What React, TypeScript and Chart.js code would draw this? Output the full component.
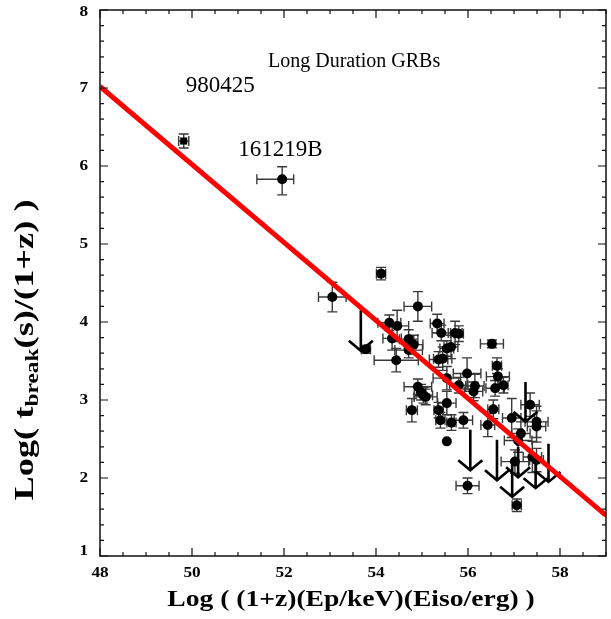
import React, { useEffect, useRef } from "react";
import { Chart, registerables } from "chart.js";

Chart.register(...registerables);

// ---- Axis ranges and tick labels ----
const xRange = [48, 59];
const yRange = [1, 8];
const xTickValues = [48, 50, 52, 54, 56, 58];
const yTickValues = [1, 2, 3, 4, 5, 6, 7, 8];
const xMinorStep = 0.5;
const yMinorStep = 0.2;

// ---- Best-fit line ----
const fitX = [48, 59];
const fitY = [7.02, 1.52];

// ---- Measured GRBs (x, y, x error, y error) ----
const grbX = [
  53.05, 54.11, 53.78, 54.29, 54.46, 54.91, 55.33, 55.42, 55.72, 55.8,
  55.63, 54.35, 54.71, 54.82, 54.71, 54.44, 55.36, 55.45, 55.54, 56.52,
  56.63, 56.65, 56.77, 56.59, 55.98, 56.15, 56.12, 55.8, 55.54, 54.91,
  54.98, 55.03, 55.08, 54.78, 55.36, 55.4, 55.54, 55.54, 55.64, 55.9,
  55.99, 56.55, 56.43, 56.95, 57.35, 57.49, 57.49, 57.15, 57.09, 57.02,
  57.4, 57.49, 57.06,
];
const grbY = [
  4.32, 4.62, 3.65, 3.99, 3.95, 4.2, 3.98, 3.86, 3.86, 3.85,
  3.68, 3.79, 3.78, 3.71, 3.64, 3.51, 3.52, 3.53, 3.66, 3.72,
  3.44, 3.3, 3.19, 3.15, 3.34, 3.18, 3.11, 3.19, 3.28, 3.17,
  3.1, 3.06, 3.04, 2.87, 2.87, 2.74, 2.96, 2.47, 2.71, 2.74,
  1.9, 2.88, 2.68, 2.77, 2.94, 2.72, 2.66, 2.57, 2.48, 2.21,
  2.27, 2.23, 1.65,
];
const grbXErr = [
  0.3, 0.1, 0.1, 0.25, 0.25, 0.3, 0.15, 0.2, 0.15, 0.1,
  0.15, 0.2, 0.2, 0.2, 0.3, 0.48, 0.2, 0.2, 0.15, 0.25,
  0.1, 0.25, 0.1, 0.2, 0.3, 0.2, 0.2, 0.2, 0.3, 0.3,
  0.1, 0.2, 0.25, 0.12, 0.1, 0.1, 0.2, 0, 0.1, 0.2,
  0.25, 0.12, 0.15, 0.2, 0.2, 0.25, 0.2, 0.2, 0.3, 0.3,
  0.2, 0.15, 0.1,
];
const grbYErr = [
  0.19, 0.08, 0.05, 0.1, 0.2, 0.19, 0.12, 0.1, 0.15, 0.1,
  0.15, 0.15, 0.12, 0.12, 0.1, 0.15, 0.1, 0.15, 0.1, 0.05,
  0.1, 0.1, 0.1, 0.1, 0.2, 0.15, 0.12, 0.1, 0.15, 0.1,
  0.1, 0.1, 0.1, 0.15, 0.1, 0.1, 0.15, 0, 0.1, 0.1,
  0.1, 0.12, 0.15, 0.25, 0.15, 0.2, 0.2, 0.15, 0.15, 0.15,
  0.2, 0.15, 0.08,
];

// ---- Upper limits (arrow from top value down to tip value) ----
const limitX = [53.67, 56.05, 56.63, 57.25, 56.96, 57.09, 57.47, 57.75];
const limitTop = [4.15, 2.62, 2.49, 3.23, 2.17, 2.4, 2.23, 2.44];
const limitTip = [3.63, 2.1, 1.97, 2.72, 1.76, 2.01, 1.87, 1.95];

// ---- Labelled GRBs ----
const namedLabels = ["980425", "161219B"];
const namedX = [49.82, 51.96];
const namedY = [6.32, 5.83];
const namedXErrLo = [0.11, 0.55];
const namedXErrHi = [0.11, 0.25];
const namedYErrLo = [0.09, 0.2];
const namedYErrHi = [0.09, 0.16];
const namedShapes = ["rect", "circle"];

const panelTitle = "Long Duration GRBs";
const xTitle = "Log ( (1+z)(Ep/keV)(Eiso/erg) )";
const yTitleParts = ["Log( t", "break", "(s)/(1+z) )"];

const SERIF = '"Liberation Serif", "Times New Roman", Times, serif';

function drawText(
  ctx: CanvasRenderingContext2D,
  text: string,
  x: number,
  y: number,
  font: string,
  align: CanvasTextAlign,
  baseline: CanvasTextBaseline,
  sx: number
) {
  ctx.save();
  ctx.font = font;
  ctx.textAlign = align;
  ctx.textBaseline = baseline;
  ctx.translate(x, y);
  ctx.scale(sx, 1);
  ctx.fillText(text, 0, 0);
  ctx.restore();
}

const decorPlugin = {
  id: "decor",
  beforeDatasetsDraw(chart: any) {
    const { ctx, scales } = chart;
    const xs = scales.x;
    const ys = scales.y;
    ctx.save();
    ctx.strokeStyle = "#3a3a3a";
    ctx.lineWidth = 1.4;
    const cap = 5;
    const bar = (x: number, y: number, xl: number, xh: number, yl: number, yh: number) => {
      const px = xs.getPixelForValue(x);
      const py = ys.getPixelForValue(y);
      ctx.beginPath();
      if (xl > 0 || xh > 0) {
        const a = xs.getPixelForValue(x - xl);
        const b = xs.getPixelForValue(x + xh);
        ctx.moveTo(a, py); ctx.lineTo(b, py);
        ctx.moveTo(a, py - cap); ctx.lineTo(a, py + cap);
        ctx.moveTo(b, py - cap); ctx.lineTo(b, py + cap);
      }
      if (yl > 0 || yh > 0) {
        const a = ys.getPixelForValue(y - yl);
        const b = ys.getPixelForValue(y + yh);
        ctx.moveTo(px, a); ctx.lineTo(px, b);
        ctx.moveTo(px - cap, a); ctx.lineTo(px + cap, a);
        ctx.moveTo(px - cap, b); ctx.lineTo(px + cap, b);
      }
      ctx.stroke();
    };
    grbX.forEach((x, i) => bar(x, grbY[i], grbXErr[i], grbXErr[i], grbYErr[i], grbYErr[i]));
    namedX.forEach((x, i) => bar(x, namedY[i], namedXErrLo[i], namedXErrHi[i], namedYErrLo[i], namedYErrHi[i]));

    ctx.strokeStyle = "#000";
    ctx.lineWidth = 2.6;
    limitX.forEach((x, i) => {
      const px = xs.getPixelForValue(x);
      const top = ys.getPixelForValue(limitTop[i]);
      const tip = ys.getPixelForValue(limitTip[i]);
      ctx.beginPath();
      ctx.moveTo(px, top); ctx.lineTo(px, tip);
      ctx.moveTo(px - 12, tip - 10); ctx.lineTo(px, tip); ctx.lineTo(px + 12, tip - 10);
      ctx.stroke();
    });
    ctx.restore();
  },
  afterDraw(chart: any) {
    const { ctx, scales, chartArea } = chart;
    const xs = scales.x;
    const ys = scales.y;
    const { left, right, top, bottom } = chartArea;
    ctx.save();
    ctx.strokeStyle = "#111";
    ctx.lineWidth = 1.5;
    ctx.strokeRect(left, top, right - left, bottom - top);
    ctx.lineWidth = 1.2;
    ctx.beginPath();
    for (let v = xRange[0]; v <= xRange[1] + 1e-9; v += xMinorStep) {
      const px = xs.getPixelForValue(v);
      const major = xTickValues.some((t) => Math.abs(t - v) < 1e-6);
      const len = major ? 8 : 4;
      ctx.moveTo(px, bottom); ctx.lineTo(px, bottom - len);
      ctx.moveTo(px, top); ctx.lineTo(px, top + len);
    }
    for (let v = yRange[0]; v <= yRange[1] + 1e-9; v += yMinorStep) {
      const py = ys.getPixelForValue(v);
      const major = yTickValues.some((t) => Math.abs(t - v) < 1e-6);
      const len = major ? 8 : 4;
      ctx.moveTo(left, py); ctx.lineTo(left + len, py);
      ctx.moveTo(right, py); ctx.lineTo(right - len, py);
    }
    ctx.stroke();

    ctx.fillStyle = "#000";
    const tickFont = `bold 15px ${SERIF}`;
    xTickValues.forEach((v) => {
      drawText(ctx, String(v), xs.getPixelForValue(v), bottom + 21, tickFont, "center", "alphabetic", 1.15);
    });
    yTickValues.forEach((v) => {
      const off = v === yRange[0] ? -5 : v === yRange[1] ? 2 : 0;
      drawText(ctx, String(v), left - 12, ys.getPixelForValue(v) + off, tickFont, "right", "middle", 1.15);
    });

    drawText(ctx, panelTitle, 268, 67, `20px ${SERIF}`, "left", "alphabetic", 1);
    const offs = [[2, -49], [-44, -23]];
    namedLabels.forEach((t, i) => {
      const px = xs.getPixelForValue(namedX[i]);
      const py = ys.getPixelForValue(namedY[i]);
      drawText(ctx, t, px + offs[i][0], py + offs[i][1], `23px ${SERIF}`, "left", "alphabetic", 1);
    });

    drawText(ctx, xTitle, (left + right) / 2 - 2, 606, `bold 24px ${SERIF}`, "center", "alphabetic", 1.15);

    // y title (rotated, with subscript)
    ctx.save();
    ctx.translate(33, 350);
    ctx.rotate(-Math.PI / 2);
    ctx.scale(1.3, 1);
    const mainFont = `bold 28px ${SERIF}`;
    const subFont = `bold 18px ${SERIF}`;
    ctx.font = mainFont;
    const w0 = ctx.measureText(yTitleParts[0]).width;
    const w2 = ctx.measureText(yTitleParts[2]).width;
    ctx.font = subFont;
    const w1 = ctx.measureText(yTitleParts[1]).width;
    let cx = -(w0 + w1 + w2) / 2;
    ctx.textAlign = "left";
    ctx.textBaseline = "alphabetic";
    ctx.font = mainFont;
    ctx.fillText(yTitleParts[0], cx, 0);
    cx += w0;
    ctx.font = subFont;
    ctx.fillText(yTitleParts[1], cx, 5);
    cx += w1;
    ctx.font = mainFont;
    ctx.fillText(yTitleParts[2], cx, 0);
    ctx.restore();

    ctx.restore();
  },
};

export default function App() {
  const canvasRef = useRef<HTMLCanvasElement | null>(null);

  useEffect(() => {
    const canvas = canvasRef.current;
    if (!canvas) return;
    const chart = new Chart(canvas, {
      type: "scatter",
      data: {
        datasets: [
          {
            type: "line",
            data: fitX.map((x, i) => ({ x, y: fitY[i] })),
            borderColor: "#ff0000",
            borderWidth: 5,
            pointRadius: 0,
            fill: false,
            order: 0,
          } as any,
          {
            data: grbX.map((x, i) => ({ x, y: grbY[i] })),
            backgroundColor: "#000",
            borderColor: "#000",
            borderWidth: 0,
            pointRadius: 5,
            pointStyle: "circle",
            order: 1,
          },
          {
            data: namedX.map((x, i) => ({ x, y: namedY[i] })),
            backgroundColor: "#000",
            borderColor: "#000",
            borderWidth: 0,
            pointRadius: 5,
            pointStyle: namedShapes as any,
            order: 1,
          },
        ],
      },
      options: {
        responsive: false,
        animation: false,
        devicePixelRatio: 1,
        layout: { padding: { top: 10, right: 3, left: 0, bottom: 0 } },
        plugins: { legend: { display: false }, tooltip: { enabled: false } },
        scales: {
          x: {
            type: "linear",
            min: xRange[0],
            max: xRange[1],
            grid: { display: false, drawTicks: false },
            border: { display: false },
            ticks: { display: false },
            afterBuildTicks: (s: any) => {
              s.ticks = xTickValues.map((v) => ({ value: v }));
            },
            afterFit: (s: any) => {
              s.height = 63;
            },
          },
          y: {
            type: "linear",
            min: yRange[0],
            max: yRange[1],
            grid: { display: false, drawTicks: false },
            border: { display: false },
            ticks: { display: false },
            afterBuildTicks: (s: any) => {
              s.ticks = yTickValues.map((v) => ({ value: v }));
            },
            afterFit: (s: any) => {
              s.width = 100;
            },
          },
        },
      } as any,
      plugins: [decorPlugin],
    });
    return () => chart.destroy();
  }, []);

  return (
    <div style={{ position: "fixed", left: 0, top: 0, width: 611, height: 619, background: "#fff" }}>
      <canvas ref={canvasRef} width={611} height={619} style={{ width: 611, height: 619 }} />
    </div>
  );
}
